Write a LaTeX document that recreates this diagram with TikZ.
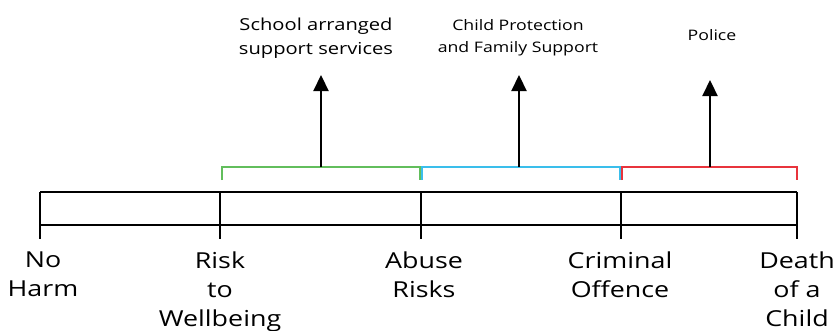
\documentclass[tikz,border=0pt]{standalone}
\usepackage{fontspec}
\setmainfont{Open Sans}[FakeStretch=1.22]
\usetikzlibrary{arrows.meta,positioning}
\definecolor{schoolgreen}{RGB}{98,190,92}
\definecolor{cpblue}{RGB}{58,190,235}
\definecolor{policered}{RGB}{232,52,60}

\begin{document}
\begin{tikzpicture}[x=1pt,y=-1pt,line width=1.8pt,
  stage/.style={anchor=north,inner sep=0pt,align=center,font=\fontsize{22}{29}\selectfont},
  agency/.style={inner sep=0pt,align=center},
  bracket/.style={line width=1.8pt},
  pointer/.style={line width=2.2pt,-{Triangle[width=15pt,length=16pt]}}]

  \useasboundingbox (0,0) rectangle (837,330);

  % Timeline
  \foreach \n/\x in {0/40,1/220,2/421,3/621,4/797}{
    \coordinate (t\n) at (\x,192);
    \coordinate (e\n) at (\x,239);
    \draw (t\n) -- (e\n);
  }
  \draw (t0) -- (t4);
  \draw (40,225) -- (797,225);

  % Stages
  \node[stage] (noharm) at ([yshift=-12pt,xshift=3pt]e0) {No\\Harm};
  \node[stage] (risk) at ([yshift=-12pt]e1) {Risk\\to\\Wellbeing};
  \node[stage] (abuse) at ([yshift=-12pt,xshift=3pt]e2) {Abuse\\Risks};
  \node[stage] (crime) at ([yshift=-12pt,xshift=-1pt]e3) {Criminal\\Offence};
  \node[stage] (death) at ([yshift=-12pt]e4) {Death\\of a\\Child};

  % Brackets
  \draw[bracket,schoolgreen] (222,180) |- (420,167) -- (420,180);
  \draw[bracket,cpblue] (422,180) |- (620,167) -- (620,180);
  \draw[bracket,policered] (622,180) |- (797,167) -- (797,180);
  \coordinate (gmid) at (321,167);
  \coordinate (bmid) at (519,167);
  \coordinate (rmid) at (710,167);

  % Services
  \node[agency,anchor=north,font=\fontsize{16.5}{24}\selectfont] (school) at (316,17) {School arranged\\support services};
  \node[agency,anchor=north,font=\fontsize{14.5}{22}\selectfont] (cp) at (518,19) {Child Protection\\and Family Support};
  \node[agency,font=\fontsize{14.5}{22}\selectfont] (police) at (712,35) {Police};

  \coordinate (gtip) at (321,75);
  \coordinate (btip) at (519,75);
  \coordinate (rtip) at (710,80);
  \draw[pointer] (gmid) -- (gtip);
  \draw[pointer] (bmid) -- (btip);
  \draw[pointer] (rmid) -- (rtip);
\end{tikzpicture}
\end{document}
